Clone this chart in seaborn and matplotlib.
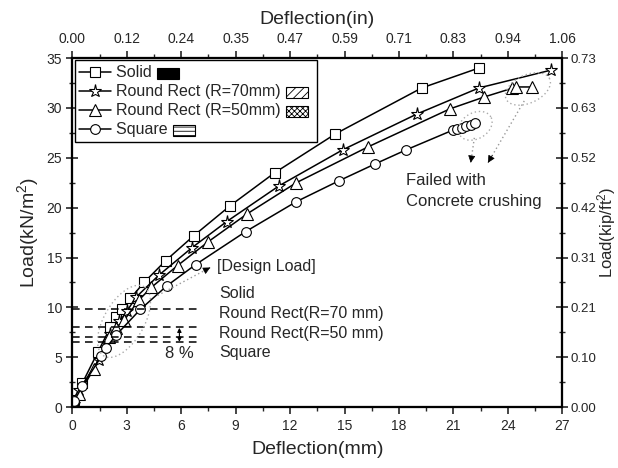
import numpy as np
import matplotlib
matplotlib.use("Agg")
import matplotlib.pyplot as plt
import seaborn as sns
import pandas as pd
from matplotlib.lines import Line2D
from matplotlib.patches import Rectangle

# ---------------- data ----------------
solid_x = [0.1, 0.55, 1.4, 2.1, 2.4, 2.75, 3.2, 3.95, 5.15, 6.7, 8.7, 11.15, 14.5, 19.25, 22.4]
solid_y = [0.7, 2.4, 5.5, 8.0, 9.0, 9.85, 10.9, 12.5, 14.7, 17.2, 20.2, 23.5, 27.4, 32.0, 34.0]

r70_x = [0.1, 0.35, 1.45, 2.1, 2.6, 3.0, 3.5, 4.75, 6.6, 8.5, 11.4, 14.9, 19.0, 22.4, 26.4]
r70_y = [0.3, 1.7, 4.7, 7.3, 8.6, 9.6, 11.0, 13.2, 16.0, 18.6, 22.2, 25.8, 29.4, 32.0, 33.8]

r50_x = [0.1, 0.35, 1.2, 2.0, 2.4, 2.85, 3.65, 4.35, 5.8, 7.5, 9.65, 12.34, 16.3, 20.8, 22.7, 24.2, 24.45, 25.3]
r50_y = [0.3, 1.3, 3.85, 7.0, 7.9, 8.7, 10.7, 12.0, 14.2, 16.6, 19.4, 22.5, 26.1, 29.9, 31.1, 31.95, 32.1, 32.1]

sq_x = [0.1, 0.55, 1.6, 1.85, 2.4, 3.75, 5.2, 6.8, 9.55, 12.34, 14.7, 16.7, 18.4, 21.0, 21.2, 21.45, 21.7, 21.95, 22.2]
sq_y = [0.6, 2.1, 5.1, 5.9, 7.2, 9.8, 12.15, 14.3, 17.6, 20.6, 22.7, 24.4, 25.8, 27.8, 27.9, 28.0, 28.15, 28.3, 28.5]

series_names = ["Solid", "Round Rect (R=70mm)", "Round Rect (R=50mm)", "Square"]
design_loads = [9.8, 8.0, 7.05, 6.5]
design_labels = ["Solid", "Round Rect(R=70 mm)", "Round Rect(R=50 mm)", "Square"]

x_ticks = [0, 3, 6, 9, 12, 15, 18, 21, 24, 27]
y_ticks = [0, 5, 10, 15, 20, 25, 30, 35]

# ---------------- style ----------------
sns.set_theme(style="ticks")
plt.rcParams['font.family'] = ['Liberation Sans', 'DejaVu Sans']
plt.rcParams['mathtext.fontset'] = 'custom'
plt.rcParams['mathtext.rm'] = 'Liberation Sans'
plt.rcParams['mathtext.it'] = 'Liberation Sans:italic'
plt.rcParams['hatch.linewidth'] = 0.6

fig = plt.figure(figsize=(6.18, 4.68), dpi=100)
ax = fig.add_axes([0.117, 0.13, 0.793, 0.746])

markers = ["s", "*", "^", "o"]
msizes = [7, 9.5, 8, 7]
datasets = [(solid_x, solid_y), (r70_x, r70_y), (r50_x, r50_y), (sq_x, sq_y)]

for (xs, ys), name, m, ms in zip(datasets, series_names, markers, msizes):
    df = pd.DataFrame({"x": xs, "y": ys})
    sns.lineplot(data=df, x="x", y="y", ax=ax, color="black", lw=1.1,
                 sort=False, estimator=None, marker=m, markersize=ms,
                 markerfacecolor="white", markeredgecolor="black",
                 markeredgewidth=0.8, legend=False)

ax.set_xlim(0, 27)
ax.set_ylim(0, 35)
ax.set_xticks(x_ticks)
ax.set_yticks(y_ticks)
ax.set_xticks(np.arange(1.5, 27, 3), minor=True)
ax.set_yticks(np.arange(2.5, 35, 5), minor=True)
ax.set_xlabel("Deflection(mm)", fontsize=14, labelpad=6)
ax.set_ylabel("Load(kN/m$^2$)", fontsize=14, labelpad=4)
ax.tick_params(axis="x", which="major", direction="out", length=5, width=1.2, labelsize=10)
ax.tick_params(axis="x", which="minor", direction="out", length=3, width=1.0)
ax.tick_params(axis="y", which="major", direction="inout", length=8, width=1.2, labelsize=10)
ax.tick_params(axis="y", which="minor", direction="inout", length=5, width=1.0)
for s in ax.spines.values():
    s.set_linewidth(1.5)
    s.set_color("black")

# top axis (inches)
axt = ax.twiny()
axt.set_xlim(ax.get_xlim())
axt.set_xticks(x_ticks)
axt.set_xticklabels([f"{v/25.4:.2f}" for v in x_ticks])
axt.set_xticks(np.arange(1.5, 27, 3), minor=True)
axt.set_xlabel("Deflection(in)", fontsize=14, labelpad=6)
axt.tick_params(axis="x", which="major", direction="out", length=5, width=1.2, labelsize=10)
axt.tick_params(axis="x", which="minor", direction="out", length=3, width=1.0)

# right axis (kip/ft^2)
axr = ax.twinx()
axr.set_ylim(ax.get_ylim())
axr.set_yticks(y_ticks)
axr.set_yticklabels([f"{v*0.020885:.2f}" for v in y_ticks])
axr.set_yticks(np.arange(2.5, 35, 5), minor=True)
axr.set_ylabel("Load(kip/ft$^2$)", fontsize=12, rotation=90)
axr.yaxis.label.set_ha("center")
axr.yaxis.label.set_va("center")
axr.yaxis.set_label_coords(1.09, 0.5)
axr.tick_params(axis="y", which="major", direction="inout", length=8, width=1.2,
                labelsize=9.5, pad=1.5)
axr.tick_params(axis="y", which="minor", direction="inout", length=5, width=1.0)
for a in (axt, axr):
    for s in a.spines.values():
        s.set_linewidth(1.5)
        s.set_color("black")

# design load lines
for v in design_loads:
    ax.plot([0, 7.1], [v, v], color="black", lw=1.1, ls=(0, (5, 3.5)))
ax.annotate("", xy=(5.9, design_loads[1] - 0.05), xytext=(5.9, design_loads[3] + 0.05),
            arrowprops=dict(arrowstyle="<|-|>", color="black", lw=0.8, mutation_scale=6,
                            shrinkA=0, shrinkB=0))
ax.text(5.9, 5.35, "8 %", fontsize=12, ha="center", va="center")

ax.text(7.95, 14.1, "[Design Load]", fontsize=11.5, ha="left", va="center")
for lab, yy in zip(design_labels, [11.4, 9.4, 7.4, 5.5]):
    ax.text(8.1, yy, lab, fontsize=11.5, ha="left", va="center")

ax.text(18.4, 22.7, "Failed with", fontsize=12, ha="left", va="center")
ax.text(18.4, 20.6, "Concrete crushing", fontsize=12, ha="left", va="center")


def dotted_ellipse(cx, cy, a_px, b_px, ang_deg):
    c = ax.transData.transform((cx, cy))
    t = np.linspace(0, 2 * np.pi, 200)
    ang = np.deg2rad(ang_deg)
    u = a_px * np.cos(t)
    v = b_px * np.sin(t)
    px = c[0] + u * np.cos(ang) - v * np.sin(ang)
    py = c[1] + u * np.sin(ang) + v * np.cos(ang)
    pts = ax.transData.inverted().transform(np.column_stack([px, py]))
    ax.plot(pts[:, 0], pts[:, 1], color="#aaaaaa", lw=1.0, ls=(0, (1, 2)))


dotted_ellipse(2.85, 8.6, 40, 20, 60)
dotted_ellipse(22.2, 28.2, 18, 13, 30)
dotted_ellipse(25.1, 31.9, 24, 14, 25)


def dotted_arrow(p0, p1):
    ax.plot([p0[0], p1[0]], [p0[1], p1[1]], color="#999999", lw=1.0, ls=(0, (1, 2)))
    d = np.array(p1) - np.array(p0)
    start = np.array(p1) - d * 0.12
    ax.annotate("", xy=p1, xytext=tuple(start),
                arrowprops=dict(arrowstyle="-|>", color="black", lw=0.5,
                                mutation_scale=11, shrinkA=0, shrinkB=0))


dotted_arrow((4.7, 11.2), (7.6, 14.0))
dotted_arrow((22.15, 27.0), (21.95, 24.5))
dotted_arrow((24.9, 30.7), (22.9, 24.5))

# legend
handles = [Line2D([], [], color="black", lw=1.1, marker=m, markersize=ms,
                  markerfacecolor="white", markeredgecolor="black", markeredgewidth=0.8)
           for m, ms in zip(markers, msizes)]
pad_labels = [n + "       " for n in series_names]
leg = ax.legend(handles, pad_labels, loc="upper left", bbox_to_anchor=(0.0, 1.0),
                fontsize=11.5, frameon=True, fancybox=False, edgecolor="black",
                framealpha=1, handlelength=2.0, handletextpad=0.3,
                borderaxespad=0.15, labelspacing=0.25, borderpad=0.3)
leg.get_frame().set_linewidth(1.0)

fig.canvas.draw()
renderer = fig.canvas.get_renderer()
hatches = [None, "////", "xxxxxx", "----"]
for txt, name, h in zip(leg.get_texts(), series_names, hatches):
    bb = txt.get_window_extent(renderer)
    tmp = fig.text(0, 0, name, fontsize=11.5, fontfamily=plt.rcParams['font.family'])
    w = tmp.get_window_extent(renderer).width
    tmp.remove()
    x0 = bb.x0 + w + 5
    yc = (bb.y0 + bb.y1) / 2 - 1
    wpx, hpx = 22, 11
    inv = fig.transFigure.inverted()
    (fx, fy) = inv.transform((x0, yc - hpx / 2))
    (fx2, fy2) = inv.transform((x0 + wpx, yc + hpx / 2))
    if h is None:
        r = Rectangle((fx, fy), fx2 - fx, fy2 - fy, transform=fig.transFigure,
                      facecolor="black", edgecolor="black", lw=0.8)
    else:
        r = Rectangle((fx, fy), fx2 - fx, fy2 - fy, transform=fig.transFigure,
                      facecolor="white", edgecolor="black", lw=0.8, hatch=h)
    fig.add_artist(r)

fig.savefig("out.png", dpi=100)
